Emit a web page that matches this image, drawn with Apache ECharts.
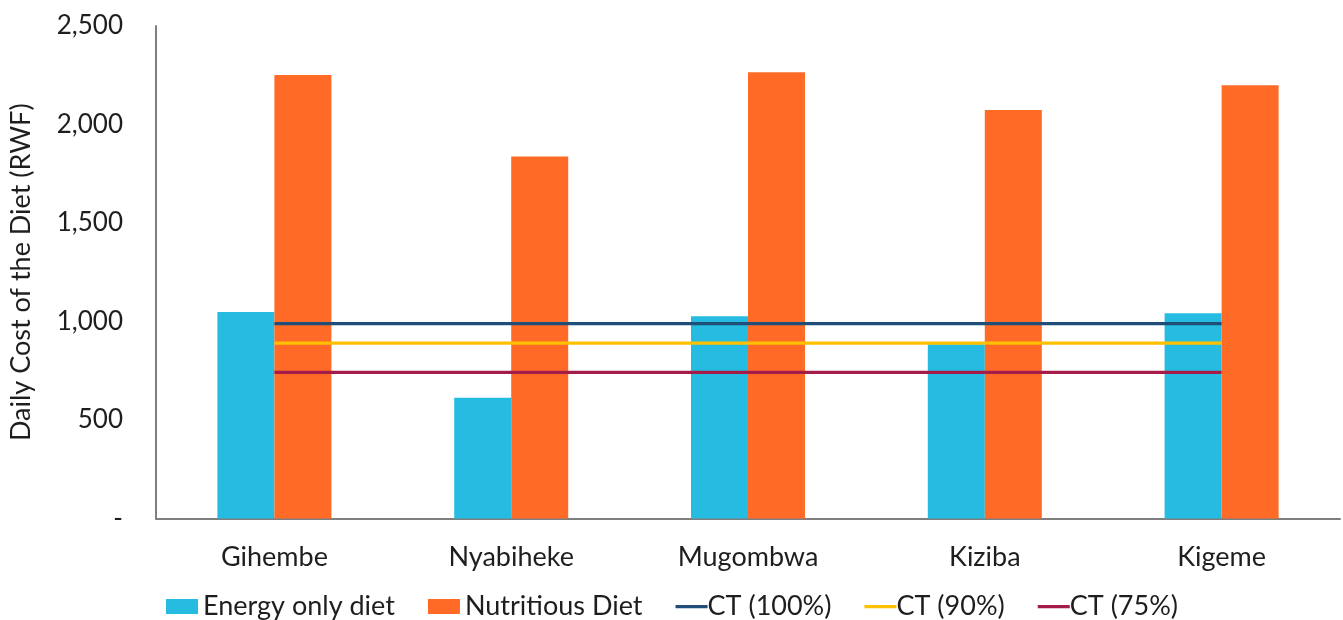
<!DOCTYPE html>
<html>
<head>
<meta charset="utf-8">
<script src="https://cdn.jsdelivr.net/npm/echarts@6/dist/echarts.min.js"></script>
<style>
html,body{margin:0;padding:0;background:#fff;}
#chart{width:1343px;height:620px;}
</style>
</head>
<body>
<div id="chart"></div>
<script>
const categories = ['Gihembe', 'Nyabiheke', 'Mugombwa', 'Kiziba', 'Kigeme'];
const energyOnly = [1048, 613, 1027, 884, 1042];
const nutritious = [2251, 1837, 2265, 2074, 2199];
const ct100 = [989, 989, 989, 989, 989];
const ct90 = [890, 890, 890, 890, 890];
const ct75 = [742, 742, 742, 742, 742];
const seriesNames = ['Energy only diet', 'Nutritious Diet', 'CT (100%)', 'CT (90%)', 'CT (75%)'];

const FONT = 'Lato';
const TXT = '#1e1e1e';
const lineIcon = 'path://M0,0h34v0.01h-34z M0,6h34v3.4h-34z M0,15h34v0.01h-34z';
const chart = echarts.init(document.getElementById('chart'), null, {renderer: 'canvas'});
chart.setOption({
  animation: false,
  textStyle: {fontFamily: FONT},
  grid: {left: 151, right: 3, top: 26, bottom: 101.5, containLabel: false},
  legend: {
    top: 588, left: 161,
    itemWidth: 32, itemHeight: 15, itemGap: 33,
    textStyle: {fontFamily: FONT, fontSize: 27, color: TXT},
    data: [
      {name: seriesNames[0], icon: 'rect'},
      {name: seriesNames[1], icon: 'rect'},
      {name: seriesNames[2], icon: lineIcon, textStyle: {padding: [0, 0, 0, -5]}},
      {name: seriesNames[3], icon: lineIcon, textStyle: {padding: [0, 0, 0, -5]}},
      {name: seriesNames[4], icon: lineIcon, textStyle: {padding: [0, 0, 0, -5]}}
    ]
  },
  xAxis: {
    type: 'category', data: categories,
    axisLine: {lineStyle: {color: '#7f7f7f', width: 2}},
    axisTick: {show: false},
    axisLabel: {fontFamily: FONT, fontSize: 27, color: TXT, margin: 25}
  },
  yAxis: {
    type: 'value', min: 0, max: 2500, interval: 500,
    name: 'Daily Cost of the Diet (RWF)', nameLocation: 'middle', nameGap: 121,
    nameTextStyle: {fontFamily: FONT, fontSize: 27, color: TXT},
    axisLine: {show: true, lineStyle: {color: '#7f7f7f', width: 2}},
    axisTick: {show: false},
    splitLine: {show: false},
    axisLabel: {
      fontFamily: FONT, fontSize: 26, color: TXT, margin: 33,
      formatter: v => v === 0 ? '-' : v.toLocaleString('en-US')
    }
  },
  series: [
    {name: seriesNames[0], type: 'bar', data: energyOnly, barWidth: 57, barGap: '0%', itemStyle: {color: '#26BCE1'}},
    {name: seriesNames[1], type: 'bar', data: nutritious, barWidth: 57, barGap: '0%', itemStyle: {color: '#FF6A26'}},
    {name: seriesNames[2], type: 'line', data: ct100, symbol: 'none', lineStyle: {color: '#1F4E79', width: 3.4}, itemStyle: {color: '#1F4E79'}},
    {name: seriesNames[3], type: 'line', data: ct90, symbol: 'none', lineStyle: {color: '#FFC000', width: 3.4}, itemStyle: {color: '#FFC000'}},
    {name: seriesNames[4], type: 'line', data: ct75, symbol: 'none', lineStyle: {color: '#A51C48', width: 3.4}, itemStyle: {color: '#A51C48'}}
  ]
});
</script>
</body>
</html>
